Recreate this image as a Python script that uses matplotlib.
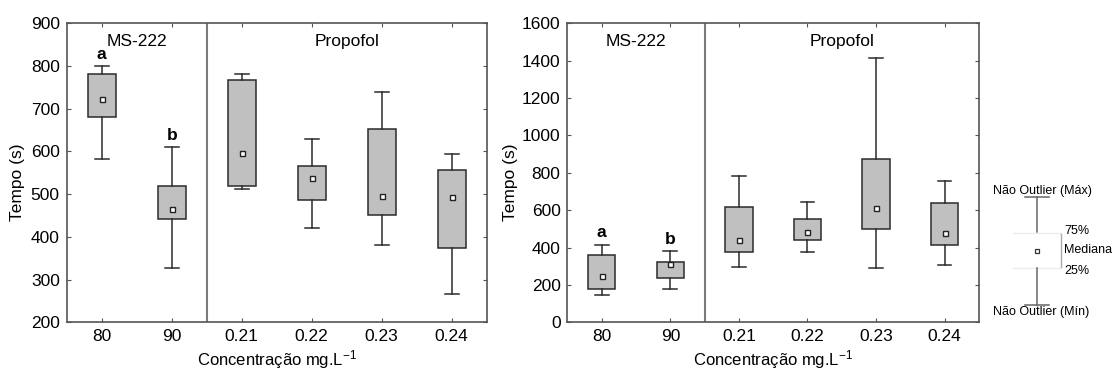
import matplotlib
matplotlib.use("Agg")
import matplotlib.pyplot as plt

plt.rcParams['font.family'] = ['Liberation Sans', 'DejaVu Sans']
plt.rcParams['mathtext.fontset'] = 'custom'
plt.rcParams['mathtext.rm'] = 'Liberation Sans'
plt.rcParams['mathtext.it'] = 'Liberation Sans'

# categories (MS-222 in mg/L, Propofol in mL/L)
cats = ['80', '90', '0.21', '0.22', '0.23', '0.24']

# left panel: min, q1, median, q3, max
l_min = [583, 328, 512, 420, 381, 266]
l_q1 = [680, 443, 518, 486, 451, 374]
l_med = [722, 466, 597, 538, 496, 493]
l_q3 = [781, 520, 768, 567, 653, 557]
l_max = [799, 611, 782, 630, 739, 593]

# right panel
r_min = [146, 180, 296, 376, 291, 307]
r_q1 = [177, 239, 378, 439, 501, 416]
r_med = [250, 310, 439, 482, 614, 478]
r_q3 = [359, 325, 619, 555, 876, 639]
r_max = [416, 382, 783, 644, 1416, 755]

letters = ['a', 'b']

frame_col = '#555555'
line_col = '#2b2b2b'


def panel(ax, mn, q1, md, q3, mx, ylim, yticks):
    stats = []
    for i in range(len(cats)):
        stats.append(dict(med=md[i], q1=q1[i], q3=q3[i], whislo=mn[i], whishi=mx[i], fliers=[]))
    pos = list(range(len(cats)))
    ax.bxp(stats, positions=pos, widths=0.4, capwidths=0.2, patch_artist=True,
           showfliers=False,
           boxprops=dict(facecolor='#c0c0c0', edgecolor=line_col, linewidth=1.1),
           whiskerprops=dict(color=line_col, linewidth=1.1),
           capprops=dict(color=line_col, linewidth=1.1),
           medianprops=dict(linewidth=0))
    ax.plot(pos, md, 's', ms=3.6, mfc='white', mec='#222222', mew=1.0, zorder=5)
    # letters for MS-222
    for i, t in enumerate(letters):
        ax.annotate(t, xy=(i, mx[i]), xytext=(0, 3), textcoords='offset points',
                    ha='center', va='bottom', fontsize=12.5, fontweight='bold')
    ax.axvline(1.5, color='#7a7a7a', linewidth=1.5)
    ax.text(0.5, 0.94, 'MS-222', transform=ax.get_xaxis_transform(), ha='center',
            va='center', fontsize=12.5)
    ax.text(3.5, 0.94, 'Propofol', transform=ax.get_xaxis_transform(), ha='center',
            va='center', fontsize=12.5)
    ax.set_xlim(-0.5, len(cats) - 0.5)
    ax.set_ylim(*ylim)
    ax.set_yticks(yticks)
    ax.set_xticks(pos)
    ax.set_xticklabels(cats)
    ax.tick_params(direction='in', length=3, width=0.8, color=frame_col,
                   labelsize=12.5, top=True, right=True, pad=5)
    for s in ax.spines.values():
        s.set_color(frame_col)
        s.set_linewidth(1.2)
    ax.set_xlabel(r'Concentração mg.L$^{\mathrm{-1}}$', fontsize=12, labelpad=3)
    ax.set_ylabel('Tempo (s)', fontsize=12.5)


fig = plt.figure(figsize=(11.12, 3.72), dpi=100)
ax1 = fig.add_axes([0.060, 0.1336, 0.3777, 0.8038])
ax2 = fig.add_axes([0.5103, 0.1336, 0.370, 0.8038])

panel(ax1, l_min, l_q1, l_med, l_q3, l_max, (200, 900), range(200, 901, 100))
panel(ax2, r_min, r_q1, r_med, r_q3, r_max, (0, 1600), range(0, 1601, 200))
ax1.yaxis.set_label_coords(-0.10, 0.47)
ax2.yaxis.set_label_coords(-0.12, 0.47)

# legend key, drawn in pixel-like coords
lg = fig.add_axes([980 / 1112, (372 - 325) / 372, 132 / 1112, 150 / 372])
lg.set_xlim(980, 1112)
lg.set_ylim(325, 175)
lg.axis('off')
kc = '#666666'
fs = 9
lg.text(993, 191.5, 'Não Outlier (Máx)', fontsize=fs, va='center', ha='left')
lg.plot([1025, 1049], [197, 197], color=kc, lw=1.1)
lg.plot([1037, 1037], [197, 232], color=kc, lw=1.1)
lg.plot([1013, 1061], [233, 233], color='#ececec', lw=1)
lg.plot([1013, 1061], [268, 268], color='#ececec', lw=1)
lg.plot([1037], [251], 's', ms=3.4, mfc='white', mec='#333333', mew=0.9)
lg.plot([1061, 1061], [234, 267], color='#aaaaaa', lw=1)
lg.text(1064, 231, '75%', fontsize=fs, va='center', ha='left')
lg.text(1064, 250, 'Mediana', fontsize=fs, va='center', ha='left')
lg.text(1064, 271, '25%', fontsize=fs, va='center', ha='left')
lg.plot([1037, 1037], [268, 305], color=kc, lw=1.1)
lg.plot([1025, 1049], [305, 305], color=kc, lw=1.1)
lg.text(993, 312, 'Não Outlier (Mín)', fontsize=fs, va='center', ha='left')

fig.savefig('out.png', dpi=100)
